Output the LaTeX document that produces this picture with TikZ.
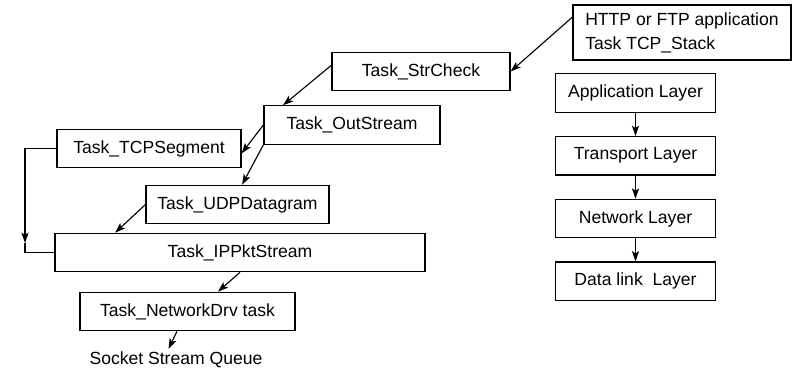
\documentclass[tikz,border=0pt]{standalone}
\usepackage{fontspec}
\setmainfont{Liberation Sans}
\usetikzlibrary{arrows.meta,positioning}

\begin{document}
\begin{tikzpicture}[
  x=0.025cm, y=-0.025cm,
  node distance=0.58cm,
  task/.style={draw, line width=0.8pt, minimum height=0.96cm, inner sep=2pt, font=\fontsize{12.5}{17}\selectfont},
  layer/.style={task, minimum width=4.0cm},
  note/.style={inner sep=2pt, font=\fontsize{12.5}{17}\selectfont},
  arrow/.style={-{Stealth[length=2.6mm, width=1.8mm, inset=0.6mm]}, line width=0.8pt}
]
  \useasboundingbox (0,0) rectangle (792,370);

  \node[task, minimum width=5.45cm, minimum height=1.375cm, align=left] (http) at (682,32.5) {HTTP or FTP application\\Task TCP\_Stack};
  \node[task, minimum width=4.45cm] (strcheck) at (421,71.5) {Task\_StrCheck};
  \node[task, minimum width=4.4cm] (outstream) at (352,125) {Task\_OutStream};
  \node[task, minimum width=4.6cm] (tcpseg) at (149,148.5) {Task\_TCPSegment};
  \node[task, minimum width=4.575cm] (udp) at (237.5,204.5) {Task\_UDPDatagram};
  \node[task, minimum width=9.25cm] (ippkt) at (240,252.5) {Task\_IPPktStream};
  \node[task, minimum width=5.375cm] (netdrv) at (187.5,311.5) {Task\_NetworkDrv task};
  \node[note] (queue) at (176,360) {Socket Stream Queue};

  \node[layer] (app) at (635.5,93) {Application Layer};
  \node[layer, below=of app] (transport) {Transport Layer};
  \node[layer, below=of transport] (network) {Network Layer};
  \node[layer, below=of network] (datalink) {Data link\ \ Layer};

  \coordinate (bend) at (25,243);

  \draw[arrow] (http.172) -- (strcheck.east);
  \draw[arrow] (strcheck.176) -- (outstream.164);
  \draw[arrow] (outstream.west) -- (tcpseg.-3);
  \draw[arrow] (outstream.south west) -- (udp.77);
  \draw[arrow] (udp.west) -- (ippkt.171);
  \draw[arrow] (tcpseg.west) -| (bend);
  \draw[line width=0.8pt] (bend) |- (ippkt.west);
  \draw[arrow] (ippkt.south) -- (netdrv.33);
  \draw[arrow] (netdrv.242) -- (queue.124);

  \draw[arrow] (app) -- (transport);
  \draw[arrow] (transport) -- (network);
  \draw[arrow] (network) -- (datalink);
\end{tikzpicture}
\end{document}
